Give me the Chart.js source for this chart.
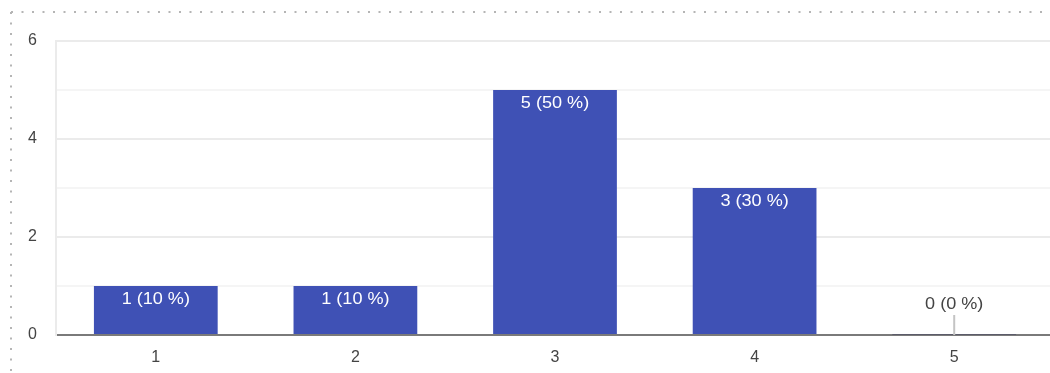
<!DOCTYPE html>
<html>
<head>
<meta charset="utf-8">
<script src="https://cdn.jsdelivr.net/npm/chart.js@4.4.1/dist/chart.umd.min.js"></script>
<style>
    html, body { margin: 0; padding: 0; background: #fff; overflow: hidden; }
    #wrap { position: relative; width: 1054px; height: 373px; }
</style>
</head>
<body>
<div id="wrap"><canvas id="chart"></canvas></div>
<script>
const categories = ['1', '2', '3', '4', '5'];
const counts = [1, 1, 5, 3, 0];
const percents = [10, 10, 50, 30, 0];
const yTicks = [0, 2, 4, 6];

const FONT = 'Arial, "Liberation Sans", sans-serif';

// dotted frame at top and left of the card
const dottedFrame = {
    id: 'dottedFrame',
    beforeDraw(chart) {
        const { ctx, width, height } = chart;
        ctx.save();
        ctx.strokeStyle = '#b5b5b5';
        ctx.lineWidth = 2;
        ctx.setLineDash([2, 8.5]);
        ctx.beginPath();
        ctx.moveTo(11, 12);
        ctx.lineTo(width, 12);
        ctx.moveTo(11, 12);
        ctx.lineTo(11, height);
        ctx.stroke();
        ctx.restore();
    },
};

// the labels in the source look slightly stretched horizontally
function stretchedText(ctx, txt, x, y) {
    ctx.save();
    ctx.translate(x, y);
    ctx.scale(1.13, 1);
    ctx.fillText(txt, 0, 0);
    ctx.restore();
}

const barLabels = {
    id: 'barLabels',
    afterDatasetsDraw(chart) {
        const { ctx } = chart;
        const meta = chart.getDatasetMeta(0);
        const base = chart.scales.y.getPixelForValue(0);
        ctx.save();
        ctx.font = '16px ' + FONT;
        ctx.textAlign = 'center';
        ctx.textBaseline = 'middle';
        meta.data.forEach((bar, i) => {
            const txt = counts[i] + ' (' + percents[i] + ' %)';
            if (counts[i] > 0) {
                ctx.fillStyle = '#ffffff';
                stretchedText(ctx, txt, bar.x, bar.y + 14);
            } else {
                ctx.strokeStyle = '#5c5c6a';
                ctx.lineWidth = 1;
                ctx.beginPath();
                ctx.moveTo(bar.x - bar.width / 2, base - 0.5);
                ctx.lineTo(bar.x + bar.width / 2, base - 0.5);
                ctx.stroke();
                ctx.strokeStyle = '#c4c4c4';
                ctx.lineWidth = 2;
                ctx.beginPath();
                ctx.moveTo(bar.x, base - 20);
                ctx.lineTo(bar.x, base);
                ctx.stroke();
                ctx.fillStyle = '#444444';
                stretchedText(ctx, txt, bar.x, base - 30);
            }
        });
        ctx.restore();
    },
};

new Chart(document.getElementById('chart'), {
    type: 'bar',
    plugins: [dottedFrame, barLabels],
    data: {
        labels: categories,
        datasets: [{
            data: counts,
            backgroundColor: '#3f51b5',
            borderWidth: 0,
            categoryPercentage: 1,
            barPercentage: 0.62,
        }],
    },
    options: {
        responsive: true,
        maintainAspectRatio: false,
        animation: false,
        layout: { padding: { top: 41, left: 0, right: 0, bottom: 0 } },
        plugins: { legend: { display: false }, tooltip: { enabled: false } },
        scales: {
            x: {
                grid: { display: false, drawTicks: false },
                border: { display: true, color: '#7a7a7a', width: 2 },
                ticks: { padding: 13, color: '#444', font: { family: FONT, size: 16 } },
                afterFit(scale) { scale.height = 38; },
            },
            y: {
                min: 0,
                max: 6,
                ticks: {
                    stepSize: 1,
                    padding: 19,
                    color: '#444',
                    font: { family: FONT, size: 16 },
                    callback: (v) => (yTicks.includes(v) ? String(v) : ''),
                },
                grid: {
                    drawTicks: false,
                    tickLength: 0,
                    lineWidth: 2,
                    color: (c) => (c.tick && yTicks.includes(c.tick.value) ? '#ebebeb' : '#f5f5f5'),
                },
                border: { display: true, color: '#ebebeb', width: 2 },
                afterFit(scale) { scale.width = 56; },
            },
        },
    },
});
</script>
</body>
</html>
